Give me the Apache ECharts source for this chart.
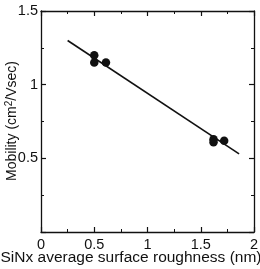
<!DOCTYPE html>
<html>
<head>
<meta charset="utf-8">
<script src="https://cdn.jsdelivr.net/npm/echarts@6/dist/echarts.min.js"></script>
<style>
  html, body { margin: 0; padding: 0; background: #fff; }
  #myChart { width: 260px; height: 269px; }
</style>
</head>
<body>
<div id="myChart"></div>
<script>
// measured points (roughness nm, mobility cm2/Vsec)
var roughness = [0.5, 0.5, 0.61, 1.62, 1.62, 1.72]
var mobility = [1.2, 1.15, 1.15, 0.63, 0.61, 0.62]
// fitted line end points
var fitX = [0.25, 1.86]
var fitY = [1.3, 0.53]
var xTicks = [0, 0.5, 1, 1.5, 2]
var yTicks = [0, 0.5, 1, 1.5]
var xTitle = 'SiNx average surface roughness (nm)'
var yTitle = '{a|Mobility (cm}{s|2}{a|/Vsec)}'

var font = 'Liberation Sans, Arial, sans-serif'
var ink = '#111'

function pairs (xs, ys) {
  var out = []
  for (var i = 0; i < xs.length; i++) out.push([xs[i], ys[i]])
  return out
}

function fmt (v) {
  return String(v)
}

function frame () {
  return {
    axisLine: { show: true, onZero: false, lineStyle: { color: ink, width: 1.3 } },
    axisTick: { show: true, inside: true, length: 5, lineStyle: { color: ink, width: 1.2 } },
    minorTick: { show: true, splitNumber: 2, length: 3, lineStyle: { color: ink, width: 1 } },
    splitLine: { show: false }
  }
}

var option = {
  animation: false,
  backgroundColor: '#fff',
  grid: { left: 41, top: 11, right: 6, bottom: 37, outerBoundsMode: 'none', containLabel: false },
  // axis titles as free text so v6 does not push them around
  graphic: [
    {
      type: 'text', x: 131, y: 258,
      style: { text: xTitle, font: '15.5px ' + font, fill: ink, align: 'center', verticalAlign: 'middle' }
    },
    {
      type: 'text', x: 12, y: 121, rotation: Math.PI / 2,
      style: {
        text: yTitle, align: 'center', verticalAlign: 'middle',
        rich: {
          a: { fontFamily: font, fontSize: 14, fill: ink },
          s: { fontFamily: font, fontSize: 10, fill: ink, verticalAlign: 'bottom', padding: [0, 0, 6, 0] }
        }
      }
    }
  ],
  xAxis: [
    Object.assign({
      type: 'value', min: 0, max: 2, interval: 0.5, position: 'bottom',
      axisLabel: { fontFamily: font, fontSize: 14.5, color: ink, margin: 5, formatter: fmt }
    }, frame()),
    Object.assign({
      type: 'value', min: 0, max: 2, interval: 0.5, position: 'top',
      axisLabel: { show: false }
    }, frame())
  ],
  yAxis: [
    Object.assign({
      type: 'value', min: 0, max: 1.5, interval: 0.5, position: 'left',
      axisLabel: {
        fontFamily: font, fontSize: 14.5, color: ink, margin: 3,
        formatter: function (v) { return v === 0 ? '' : fmt(v) }
      }
    }, frame()),
    Object.assign({
      type: 'value', min: 0, max: 1.5, interval: 0.5, position: 'right',
      axisLabel: { show: false }
    }, frame())
  ],
  series: [
    {
      type: 'line',
      data: pairs(fitX, fitY),
      symbol: 'none',
      lineStyle: { color: ink, width: 1.6 },
      z: 2
    },
    {
      type: 'scatter',
      data: pairs(roughness, mobility),
      symbol: 'circle',
      symbolSize: 8.5,
      itemStyle: { color: ink, opacity: 1 },
      z: 3
    }
  ]
}

var myChart = echarts.init(document.getElementById('myChart'))
myChart.setOption(option)
</script>
</body>
</html>
